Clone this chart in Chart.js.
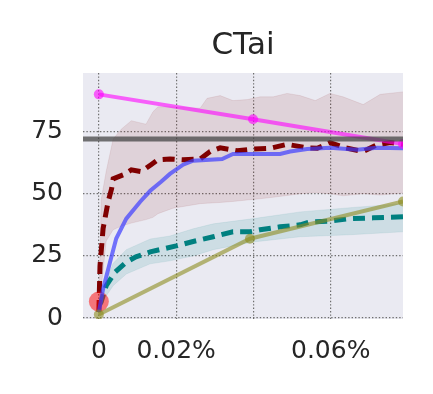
<!DOCTYPE html>
<html>
<head>
<meta charset="utf-8">
<script src="https://cdn.jsdelivr.net/npm/chart.js@4"></script>
<style>
  body { margin: 0; background: #fff; }
</style>
</head>
<body>
<canvas id="chart" width="433" height="394"></canvas>
<script>
// x values are in percent
const chartTitle = 'CTai';
const xTicks = [0, 0.02, 0.04, 0.06];
const xTickLabels = ['0', '0.02%', '', '0.06%'];
const yTicks = [0, 25, 50, 75];

const magentaX = [0, 0.0399, 0.0787];
const magentaY = [90, 80, 70];
const oliveX = [0, 0.0391, 0.0787];
const oliveY = [1.4, 31.9, 46.9];
const grayX = [-0.0041, 0.0787];
const grayY = [72, 72];
const dotX = [0];
const dotY = [6.6];

const redX = [0, 0.0003, 0.0011, 0.0024, 0.0033, 0.0037, 0.0063, 0.0084, 0.0109, 0.0135, 0.0153, 0.0184, 0.0218, 0.0262, 0.0288, 0.0314, 0.0358, 0.0399, 0.0443, 0.0487, 0.0539, 0.0565, 0.0598, 0.0637, 0.0684, 0.072, 0.0754, 0.0787];
const redY = [2.4, 21, 36, 46.8, 52, 56, 57.6, 59.6, 58.9, 61.7, 63.7, 64, 63.7, 64, 67, 68.5, 67.3, 68, 68.3, 69.9, 68.5, 68.3, 70.6, 68.5, 67, 69.7, 70.6, 69.9];

const redBandX = [0, 0.0006, 0.0019, 0.0037, 0.0058, 0.0084, 0.0122, 0.014, 0.0153, 0.0192, 0.0262, 0.028, 0.0314, 0.0347, 0.0384, 0.0417, 0.0451, 0.0487, 0.0521, 0.056, 0.0598, 0.0632, 0.0684, 0.0728, 0.0787];
const redHi = [3, 47.6, 59, 72, 76, 79.4, 78, 83, 85, 85, 84.4, 88.4, 89.5, 87.5, 87.9, 89, 89, 90.4, 89.5, 87.5, 90.4, 89, 85.9, 90, 91];
const redLo = [2, 12, 31, 35.5, 37, 38.2, 39.6, 40.5, 42, 44.2, 46, 46.2, 46.5, 46.9, 47.5, 48, 48.6, 49.3, 50, 50.5, 50, 49.2, 50, 49.5, 50.3];

const blueX = [0, 0.0011, 0.0029, 0.0045, 0.0071, 0.0107, 0.0133, 0.0161, 0.0184, 0.0218, 0.0244, 0.0319, 0.0347, 0.0469, 0.0495, 0.0539, 0.0598, 0.0668, 0.072, 0.0787];
const blueY = [2.4, 11.7, 22.5, 32, 40, 46.8, 51.2, 54.8, 58, 61.7, 63.3, 64, 66, 66, 67, 68, 68.5, 67.7, 68.5, 68.3];

const tealX = [0, 0.0006, 0.0019, 0.0042, 0.0071, 0.0096, 0.0133, 0.0166, 0.02, 0.0244, 0.0296, 0.0347, 0.0391, 0.0417, 0.0469, 0.0521, 0.0547, 0.0598, 0.065, 0.071, 0.0787];
const tealY = [5, 6.5, 13, 18.5, 22.5, 24.6, 26.6, 27.8, 29, 30.8, 32.7, 34.7, 34.7, 35.5, 36.7, 37.5, 38.7, 39, 40, 40.3, 40.7];

const tealBandX = [0, 0.0011, 0.0037, 0.0071, 0.0133, 0.0184, 0.0244, 0.0296, 0.04, 0.0521, 0.065, 0.0787];
const tealHi = [5, 12, 22, 27.5, 31.8, 33, 35.9, 37.9, 40, 42.7, 44.4, 46];
const tealLo = [4, 7, 13, 17.7, 21.8, 23, 25, 27.5, 30.6, 32.7, 33.5, 34.7];

const pts = (xs, ys) => xs.map((x, i) => ({ x: x, y: ys[i] }));

// grey plot background + title centred over the plot area
const plotBg = {
    id: 'plotBg',
    beforeDraw(chart) {
        const { ctx, chartArea: a } = chart;
        ctx.save();
        ctx.fillStyle = '#eaeaf2';
        ctx.fillRect(a.left, a.top, a.right - a.left, a.bottom - a.top);
        ctx.restore();
    },
    afterDraw(chart) {
        const { ctx, chartArea: a } = chart;
        ctx.save();
        ctx.fillStyle = '#262626';
        ctx.font = '31px "DejaVu Sans"';
        ctx.textAlign = 'center';
        ctx.textBaseline = 'middle';
        ctx.fillText(chartTitle, (a.left + a.right) / 2, 46);
        ctx.restore();
    }
};

const line = (data, color, width, extra) => Object.assign({
    data: data,
    showLine: true,
    borderColor: color,
    backgroundColor: color,
    borderWidth: width,
    pointRadius: 0,
    fill: false,
    tension: 0
}, extra || {});

new Chart(document.getElementById('chart'), {
    type: 'scatter',
    data: {
        datasets: [
            // 0,1: red band
            line(pts(redBandX, redLo), 'rgba(128,0,0,0.08)', 1, { order: 20 }),
            line(pts(redBandX, redHi), 'rgba(128,0,0,0.08)', 1, { order: 19, fill: { target: 0 }, backgroundColor: 'rgba(128,0,0,0.1)' }),
            // 2,3: teal band
            line(pts(tealBandX, tealLo), 'rgba(0,128,128,0.08)', 1, { order: 18 }),
            line(pts(tealBandX, tealHi), 'rgba(0,128,128,0.08)', 1, { order: 17, fill: { target: 2 }, backgroundColor: 'rgba(0,128,128,0.12)' }),
            line(pts(tealX, tealY), '#008080', 5, { order: 10, borderDash: [12, 7] }),
            line(pts(redX, redY), '#800000', 5, { order: 9, borderDash: [12, 7] }),
            line(pts(dotX, dotY), 'rgba(255,0,0,0.5)', 0, { order: 8, showLine: false, pointRadius: 10, pointBorderWidth: 0 }),
            line(pts(blueX, blueY), 'rgba(60,60,255,0.7)', 4, { order: 7 }),
            line(pts(oliveX, oliveY), 'rgba(140,140,30,0.6)', 4, { order: 6, pointRadius: 5, pointBorderWidth: 0 }),
            line(pts(magentaX, magentaY), 'rgba(255,0,255,0.6)', 4, { order: 5, pointRadius: 5, pointBorderWidth: 0 }),
            line(pts(grayX, grayY), 'rgba(70,70,70,0.75)', 5, { order: 4 })
        ]
    },
    options: {
        responsive: false,
        animation: false,
        devicePixelRatio: 1,
        layout: { padding: { left: 0, right: 30, top: 73, bottom: 0 } },
        plugins: {
            legend: { display: false },
            tooltip: { enabled: false },
            title: { display: false }
        },
        scales: {
            x: {
                type: 'linear',
                min: -0.0041,
                max: 0.0787,
                afterBuildTicks: axis => { axis.ticks = xTicks.map(v => ({ value: v })); },
                afterFit: axis => { axis.height = 75; },
                ticks: {
                    padding: 17,
                    color: '#262626',
                    font: { family: 'DejaVu Sans', size: 25 },
                    maxRotation: 0,
                    autoSkip: false,
                    callback: v => xTickLabels[xTicks.indexOf(v)] ?? ''
                },
                grid: { color: '#6e6e6e', lineWidth: 1.2, drawTicks: false },
                border: { display: false, dash: [1.4, 2] }
            },
            y: {
                min: -0.4,
                max: 98.6,
                afterBuildTicks: axis => { axis.ticks = yTicks.map(v => ({ value: v })); },
                afterFit: axis => { axis.width = 83; },
                ticks: {
                    padding: 20,
                    color: '#262626',
                    font: { family: 'DejaVu Sans', size: 25 }
                },
                grid: { color: '#6e6e6e', lineWidth: 1.2, drawTicks: false },
                border: { display: false, dash: [1.4, 2] }
            }
        }
    },
    plugins: [plotBg]
});
</script>
</body>
</html>
